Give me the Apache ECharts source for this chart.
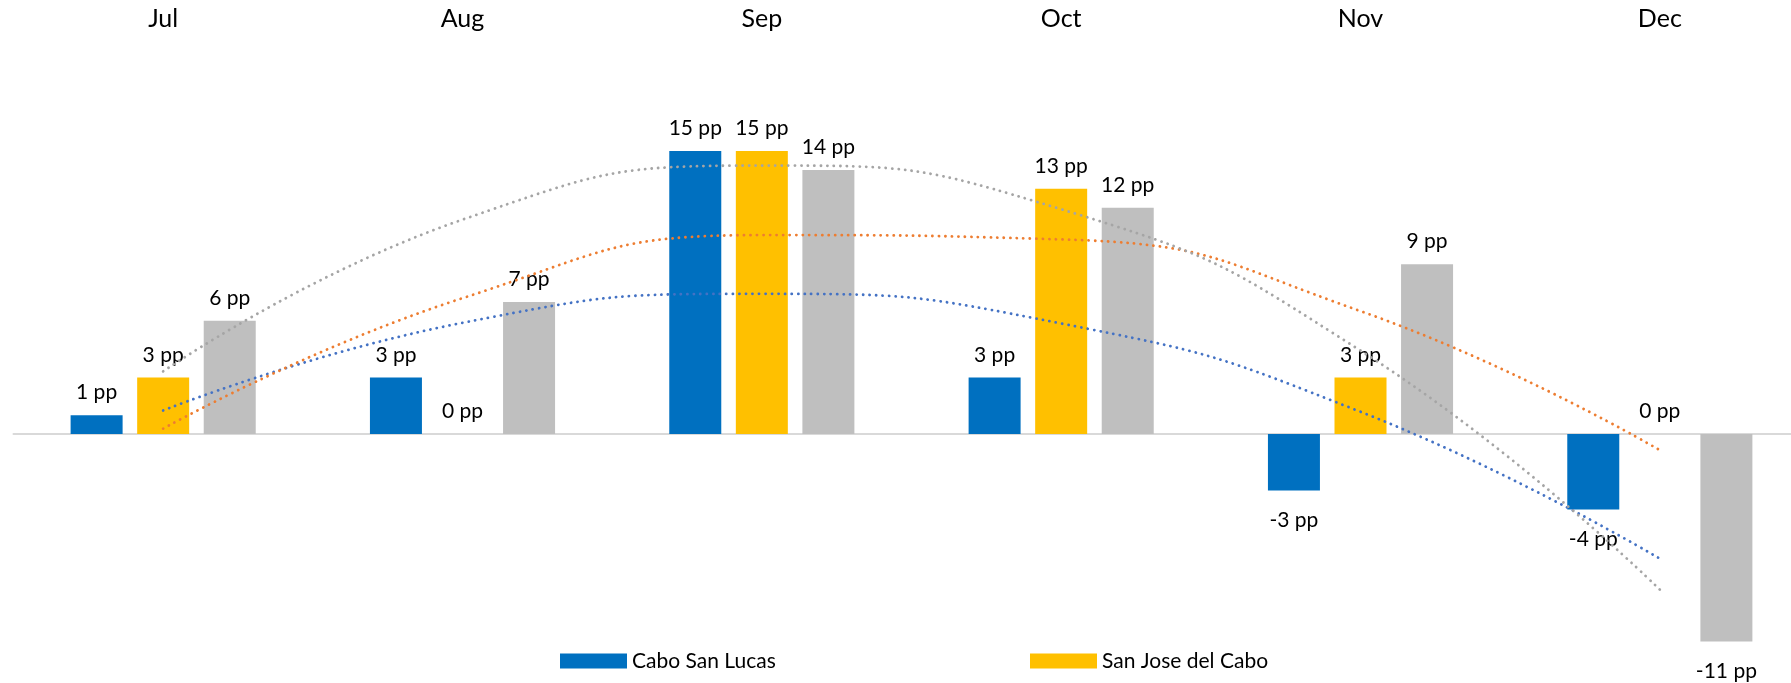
<!DOCTYPE html>
<html>
<head>
<meta charset="utf-8">
<title>Monthly change (pp)</title>
<script src="https://cdn.jsdelivr.net/npm/echarts@6/dist/echarts.min.js"></script>
<style>
  html, body { margin: 0; padding: 0; background: #ffffff; }
  #chart { width: 1791px; height: 683px; }
</style>
</head>
<body>
<div id="chart"></div>
<script>
// Categories and series values (percentage points)
const months = ['Jul', 'Aug', 'Sep', 'Oct', 'Nov', 'Dec'];
const caboSanLucas = [1, 3, 15, 3, -3, -4];
const sanJoseDelCabo = [3, 0, 15, 13, 3, 0];
const losCabos = [6, 7, 14, 12, 9, -11];

const FONT = 'Lato, "Open Sans", sans-serif';

// Second-order polynomial least-squares trendline, evaluated at each category (x = 1..n)
function quadTrend(ys) {
  let s0 = 0, s1 = 0, s2 = 0, s3 = 0, s4 = 0, t0 = 0, t1 = 0, t2 = 0;
  ys.forEach((y, i) => {
    const x = i + 1;
    s0 += 1; s1 += x; s2 += x * x; s3 += x * x * x; s4 += x * x * x * x;
    t0 += y; t1 += x * y; t2 += x * x * y;
  });
  const det3 = (m) =>
    m[0][0] * (m[1][1] * m[2][2] - m[1][2] * m[2][1]) -
    m[0][1] * (m[1][0] * m[2][2] - m[1][2] * m[2][0]) +
    m[0][2] * (m[1][0] * m[2][1] - m[1][1] * m[2][0]);
  const A = [[s0, s1, s2], [s1, s2, s3], [s2, s3, s4]];
  const B = [t0, t1, t2];
  const D = det3(A);
  const coef = [0, 1, 2].map((k) => {
    const M = A.map((row, r) => row.map((v, c) => (c === k ? B[r] : v)));
    return det3(M) / D;
  });
  return ys.map((_, i) => {
    const x = i + 1;
    return coef[0] + coef[1] * x + coef[2] * x * x;
  });
}

// Value labels: above for zero/positive bars, below for negative bars
function barData(values) {
  return values.map((v) => ({
    value: v,
    label: {
      position: v < 0 ? 'bottom' : 'top',
      distance: v < 0 ? 19 : 12
    }
  }));
}

const labelStyle = {
  show: true,
  formatter: (p) => p.value + ' pp',
  fontFamily: FONT,
  fontSize: 21,
  color: '#000000'
};

function barSeries(name, values, color) {
  return {
    name: name,
    type: 'bar',
    xAxisIndex: 0,
    barWidth: 52,
    barGap: '28%',
    itemStyle: { color: color },
    label: labelStyle,
    data: barData(values),
    z: 2
  };
}

function trendSeries(name, values, color) {
  return {
    name: name,
    type: 'line',
    xAxisIndex: 0,
    smooth: true,
    symbol: 'none',
    silent: true,
    lineStyle: { color: color, width: 2.8, type: [0.1, 6.4], cap: 'round' },
    data: quadTrend(values),
    z: 3
  };
}

const chart = echarts.init(document.getElementById('chart'), null, { renderer: 'canvas' });

chart.setOption({
  animation: false,
  backgroundColor: '#ffffff',
  grid: {
    left: 13.5, width: 1796, top: 56.7, height: 603.7,
    containLabel: false,
    outerBoundsMode: 'none'
  },
  legend: [
    {
      data: ['Cabo San Lucas'],
      left: 555, top: 645.5,
      icon: 'rect', itemWidth: 67, itemHeight: 15,
      textStyle: { fontFamily: FONT, fontSize: 21, color: '#000000' }
    },
    {
      data: ['San Jose del Cabo'],
      left: 1025, top: 645.5,
      icon: 'rect', itemWidth: 67, itemHeight: 15,
      textStyle: { fontFamily: FONT, fontSize: 21, color: '#000000' }
    }
  ],
  xAxis: [
    {
      type: 'category',
      position: 'top',
      data: months,
      axisLine: { show: false, onZero: false },
      axisTick: { show: false },
      axisLabel: { margin: 25, fontFamily: FONT, fontSize: 25, color: '#000000' },
      splitLine: { show: false }
    },
    {
      // zero baseline
      type: 'category',
      position: 'bottom',
      data: months,
      axisLine: { show: true, onZero: true, lineStyle: { color: '#D9D9D9', width: 2 } },
      axisTick: { show: false },
      axisLabel: { show: false },
      splitLine: { show: false }
    }
  ],
  yAxis: {
    type: 'value',
    min: -12,
    max: 20,
    show: false,
    splitLine: { show: false }
  },
  series: [
    barSeries('Cabo San Lucas', caboSanLucas, '#0070C0'),
    barSeries('San Jose del Cabo', sanJoseDelCabo, '#FFC000'),
    barSeries('Los Cabos', losCabos, '#BFBFBF'),
    trendSeries('Cabo San Lucas trend', caboSanLucas, '#4472C4'),
    trendSeries('San Jose del Cabo trend', sanJoseDelCabo, '#ED7D31'),
    trendSeries('Los Cabos trend', losCabos, '#A5A5A5')
  ]
});
</script>
</body>
</html>
